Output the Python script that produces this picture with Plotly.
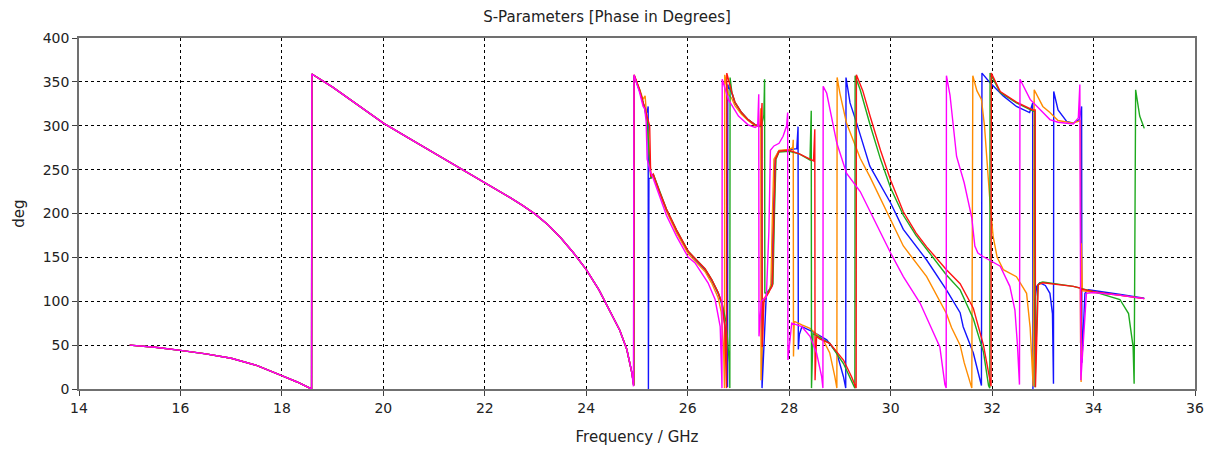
import plotly.graph_objects as go

# Phase of the S-parameters (deg) versus frequency (GHz), wrapped to 0..360.
# Below ~24.9 GHz all five curves coincide.
shared_f = [15.0, 15.5, 16.0, 16.5, 17.0, 17.5, 17.96, 18.3, 18.585,
            18.59, 19.0, 19.5, 20.0, 20.5, 21.0, 21.5, 22.0, 22.25, 22.5,
            22.75, 23.0, 23.25, 23.5, 23.75, 24.0, 24.25, 24.47, 24.66,
            24.8, 24.9]
shared_deg = [50, 47.5, 44, 40, 35, 27, 16, 8, 0,
              359, 344, 324, 303, 286, 269, 252, 235, 227, 218,
              209, 199, 187, 172, 155, 136, 113, 89, 67,
              45, 18]

blue_pts = [
    (24.935, 4), (24.94, 357), (25.05, 340), (25.12, 326), (25.2, 315),
    (25.22, 322), (25.225, 0), (25.235, 240), (25.27, 240), (25.32, 244),
    (25.45, 223), (25.58, 204), (25.78, 180), (26.01, 156), (26.14, 148),
    (26.34, 136), (26.47, 124), (26.6, 109), (26.68, 95), (26.74, 70),
    (26.785, 2), (26.79, 347), (26.8, 345), (26.87, 337), (26.93, 326),
    (27.06, 315), (27.19, 307), (27.33, 301), (27.44, 299), (27.455, 300),
    (27.465, 1), (27.55, 109), (27.65, 116), (27.68, 185), (27.72, 261),
    (27.79, 271), (28.0, 273), (28.15, 274), (28.175, 299), (28.18, 45),
    (28.2, 62), (28.25, 71), (28.47, 65), (28.74, 56), (28.94, 41),
    (29.07, 14), (29.115, 1), (29.12, 355), (29.2, 326), (29.33, 303),
    (29.59, 254), (30.0, 212), (30.25, 182), (30.71, 147), (31.1, 113),
    (31.37, 87), (31.43, 71), (31.63, 41), (31.79, 4), (31.8, 360),
    (31.96, 349), (32.22, 334), (32.48, 322), (32.74, 315), (32.8, 326),
    (32.805, 0), (32.84, 100), (32.88, 117), (32.94, 121), (33.05, 118),
    (33.14, 109), (33.19, 86), (33.21, 6), (33.215, 339), (33.3, 318),
    (33.47, 305), (33.6, 303), (33.72, 307), (33.765, 322), (33.77, 30),
    (33.83, 109), (33.9, 113), (34.5, 108), (35.0, 103.5),
]

green_pts = [
    (24.935, 4), (24.945, 357), (25.05, 341), (25.12, 327), (25.2, 306),
    (25.26, 250), (25.27, 240), (25.32, 245), (25.45, 224), (25.58, 205),
    (25.78, 181), (26.01, 157), (26.14, 149), (26.34, 137), (26.47, 125),
    (26.6, 110), (26.68, 97), (26.76, 75), (26.82, 30), (26.83, 1),
    (26.835, 355), (26.87, 338), (26.93, 327), (27.06, 315), (27.19, 307),
    (27.33, 301), (27.45, 299), (27.5, 312), (27.515, 353), (27.52, 109),
    (27.6, 112), (27.68, 120), (27.71, 200), (27.74, 262), (27.8, 270),
    (28.0, 271), (28.2, 268), (28.41, 261), (28.435, 317), (28.44, 1),
    (28.47, 63), (28.6, 59), (28.8, 52), (29.07, 29), (29.23, 10),
    (29.295, 1), (29.3, 357), (29.4, 341), (29.6, 300), (29.8, 262),
    (30.0, 229), (30.25, 198), (30.5, 175), (30.71, 159), (31.1, 130),
    (31.37, 113), (31.63, 80), (31.83, 42), (31.93, 4), (31.955, 1),
    (31.96, 360), (32.16, 338), (32.48, 326), (32.8, 317), (32.84, 316),
    (32.845, 2), (32.9, 118), (32.94, 121), (33.0, 122), (33.6, 117),
    (34.0, 111), (34.52, 102), (34.69, 86), (34.78, 48), (34.8, 6),
    (34.83, 341), (34.91, 311), (35.0, 297),
]

red_pts = [
    (24.935, 4), (24.945, 358), (25.05, 341), (25.12, 326), (25.2, 312),
    (25.25, 300), (25.27, 242), (25.32, 245), (25.45, 224), (25.58, 205),
    (25.78, 181), (26.01, 157), (26.14, 149), (26.34, 137), (26.47, 125),
    (26.6, 110), (26.68, 97), (26.73, 72), (26.765, 1), (26.77, 360),
    (26.87, 338), (26.93, 327), (27.06, 315), (27.19, 307), (27.33, 301),
    (27.44, 300), (27.465, 326), (27.47, 48), (27.5, 100), (27.6, 110),
    (27.67, 118), (27.7, 200), (27.73, 262), (27.8, 271), (28.0, 272),
    (28.2, 268), (28.41, 262), (28.48, 260), (28.505, 296), (28.51, 10),
    (28.54, 60), (28.6, 57), (28.8, 52), (29.07, 33), (29.23, 14),
    (29.32, 1), (29.325, 358), (29.45, 340), (29.6, 310), (29.8, 272),
    (30.0, 238), (30.25, 202), (30.5, 178), (30.71, 162), (31.1, 136),
    (31.37, 120), (31.63, 92), (31.83, 50), (31.98, 3), (31.985, 360),
    (32.16, 339), (32.48, 327), (32.8, 318), (32.85, 318), (32.855, 2),
    (32.91, 119), (33.0, 121), (33.6, 117), (33.74, 115), (33.745, 52),
    (33.76, 114), (34.0, 111), (34.5, 107), (35.0, 103),
]

orange_pts = [
    (24.935, 4), (24.945, 357), (25.05, 342), (25.12, 330), (25.16, 334),
    (25.2, 300), (25.26, 250), (25.28, 240), (25.32, 243), (25.45, 222),
    (25.58, 203), (25.78, 178), (26.01, 154), (26.14, 146), (26.34, 134),
    (26.47, 121), (26.6, 104), (26.66, 88), (26.71, 40), (26.725, 1),
    (26.73, 358), (26.8, 336), (26.87, 331), (26.93, 323), (27.06, 313),
    (27.19, 306), (27.33, 300), (27.42, 299), (27.44, 320), (27.445, 10),
    (27.5, 103), (27.6, 110), (27.64, 120), (27.67, 200), (27.7, 262),
    (27.8, 272), (28.0, 273), (28.07, 275), (28.08, 284), (28.085, 37),
    (28.1, 77), (28.25, 73), (28.41, 69), (28.67, 56), (28.8, 41),
    (28.9, 14), (28.94, 1), (28.945, 355), (29.0, 337), (29.13, 303),
    (29.4, 263), (29.59, 242), (30.0, 193), (30.25, 163), (30.71, 128),
    (31.1, 86), (31.2, 70), (31.37, 50), (31.45, 30), (31.55, 12),
    (31.6, 1), (31.62, 357), (31.7, 340), (31.79, 330), (31.85, 300),
    (31.95, 220), (32.02, 174), (32.1, 150), (32.22, 136), (32.48, 128),
    (32.68, 109), (32.75, 70), (32.78, 33), (32.81, 3), (32.83, 341),
    (33.0, 322), (33.14, 315), (33.3, 306), (33.6, 303), (33.74, 306),
    (33.755, 8), (33.76, 166), (33.78, 112), (34.0, 110), (34.5, 107),
    (35.0, 103),
]

magenta_pts = [
    (24.93, 3), (24.94, 358), (25.05, 338), (25.12, 322), (25.15, 320),
    (25.18, 305), (25.2, 262), (25.26, 248), (25.32, 240), (25.45, 218),
    (25.58, 198), (25.78, 174), (26.01, 150), (26.14, 144), (26.4, 121),
    (26.54, 102), (26.64, 71), (26.67, 14), (26.675, 1), (26.68, 353),
    (26.8, 330), (27.0, 311), (27.19, 301), (27.33, 298), (27.38, 300),
    (27.4, 336), (27.405, 60), (27.45, 100), (27.55, 105), (27.6, 180),
    (27.63, 272), (27.7, 277), (27.8, 280), (27.88, 288), (27.95, 300),
    (27.97, 315), (27.975, 33), (28.05, 75), (28.25, 71), (28.41, 60),
    (28.54, 41), (28.64, 14), (28.665, 1), (28.67, 345), (28.74, 337),
    (28.94, 280), (29.13, 246), (29.4, 225), (30.0, 155), (30.25, 128),
    (30.58, 98), (30.97, 48), (31.07, 5), (31.095, 1), (31.1, 357),
    (31.17, 335), (31.3, 265), (31.45, 235), (31.6, 195), (31.66, 163),
    (31.72, 155), (31.82, 151), (32.16, 140), (32.35, 117), (32.45, 90),
    (32.5, 50), (32.54, 5), (32.55, 353), (32.75, 330), (33.14, 307),
    (33.3, 304), (33.6, 302), (33.7, 309), (33.73, 347), (33.75, 10),
    (33.86, 109), (34.0, 110), (34.5, 107), (35.0, 103),
]

series = [
    ("S-Parameter 1", blue_pts, "rgb(20,20,255)"),
    ("S-Parameter 2", orange_pts, "rgb(255,140,0)"),
    ("S-Parameter 3", green_pts, "rgb(30,170,30)"),
    ("S-Parameter 4", red_pts, "rgb(255,20,20)"),
    ("S-Parameter 5", magenta_pts, "rgb(255,0,255)"),
]

fig = go.Figure()
for name, pts, color in series:
    xs = shared_f + [p[0] for p in pts]
    ys = shared_deg + [p[1] for p in pts]
    fig.add_trace(go.Scatter(x=xs, y=ys, mode="lines", name=name,
                             line=dict(color=color, width=1.4)))

font_family = "DejaVu Sans"
text_color = "#222"
axis_common = dict(
    showgrid=True, gridcolor="black", gridwidth=1, griddash="3px,3px",
    zeroline=False, showline=True, linecolor="#707070", linewidth=1.5,
    mirror=True, ticks="outside", ticklen=5, tickcolor="#404040",
    automargin=False,
    tickfont=dict(family=font_family, size=14, color=text_color),
)

fig.update_layout(
    width=1214, height=450,
    margin=dict(l=79, r=19, t=38, b=61),
    paper_bgcolor="white", plot_bgcolor="white",
    showlegend=False,
    title=dict(text="S-Parameters [Phase in Degrees]", x=0.5, xanchor="center",
               y=0.962, yanchor="middle",
               font=dict(family=font_family, size=15, color=text_color)),
    xaxis=dict(range=[14, 36], dtick=2, tick0=14,
               title=dict(text="Frequency / GHz", standoff=17,
                          font=dict(family=font_family, size=15, color=text_color)),
               **axis_common),
    yaxis=dict(range=[0, 400], dtick=50, tick0=0,
               title=dict(text="deg", standoff=14,
                          font=dict(family=font_family, size=15, color=text_color)),
               **axis_common),
)

fig.write_html("out.html")
